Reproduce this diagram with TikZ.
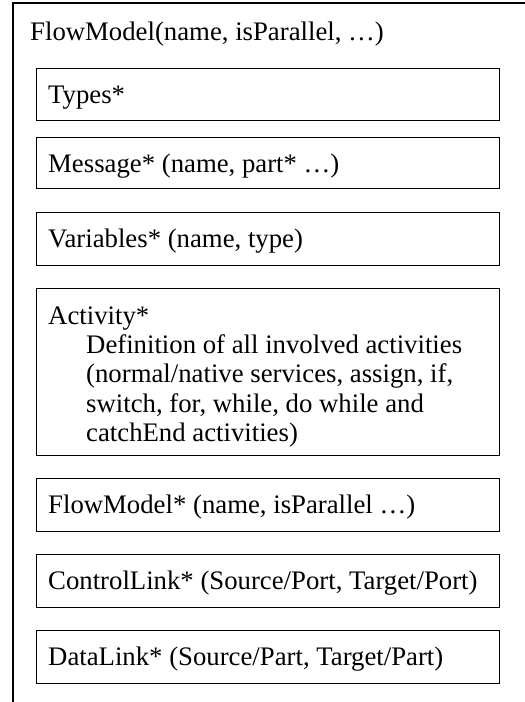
\documentclass[tikz,border=0pt]{standalone}
\usepackage{fontspec}
\setmainfont{Liberation Serif}
\begin{document}
\begin{tikzpicture}[x=1pt,y=-1pt,
  box/.style={draw=black, line width=1.3pt, anchor=north west, minimum width=463pt, inner sep=0pt},
  lbl/.style={anchor=base west, inner sep=0pt, font=\fontsize{26.75}{29.3}\selectfont},
  frame/.style={draw=black, line width=2pt}]
\useasboundingbox (0,0) rectangle (525,702);
% outer frame (cut at right and bottom)
\coordinate (ftop) at (13,3);
\coordinate (fright) at (527,3);
\coordinate (fbottom) at (13,704);
\draw[frame] (fright) -- (ftop) -- (fbottom);
\node[lbl] (title) at (30,40) {FlowModel(name, isParallel, …)};
% inner boxes
\node[box, minimum height=52pt] (types) at (36,68) {};
\node[lbl] (typest) at (48,103) {Types*};
\node[box, minimum height=51pt] (msg) at (36,137) {};
\node[lbl] (msgt) at (48,172) {Message* (name, part* …)};
\node[box, minimum height=53pt] (vars) at (36,212) {};
\node[lbl] (varst) at (48,247) {Variables* (name, type)};
\node[box, minimum height=167pt] (act) at (36,288) {};
\node[lbl] (actt) at (48,324) {Activity*};
\node[lbl] (act1) at (86,353) {Definition of all involved activities};
\node[lbl] (act2) at (86,382) {(normal/native services, assign, if,};
\node[lbl] (act3) at (86,412) {switch, for, while, do while and};
\node[lbl] (act4) at (86,441) {catchEnd activities)};
\node[box, minimum height=53pt] (sub) at (36,478) {};
\node[lbl] (subt) at (48,513) {FlowModel* (name, isParallel …)};
\node[box, minimum height=53pt] (cl) at (36,554) {};
\node[lbl] (clt) at (48,589) {ControlLink* (Source/Port, Target/Port)};
\node[box, minimum height=53pt] (dl) at (36,630) {};
\node[lbl] (dlt) at (48,665) {DataLink* (Source/Part, Target/Part)};
\end{tikzpicture}
\end{document}
